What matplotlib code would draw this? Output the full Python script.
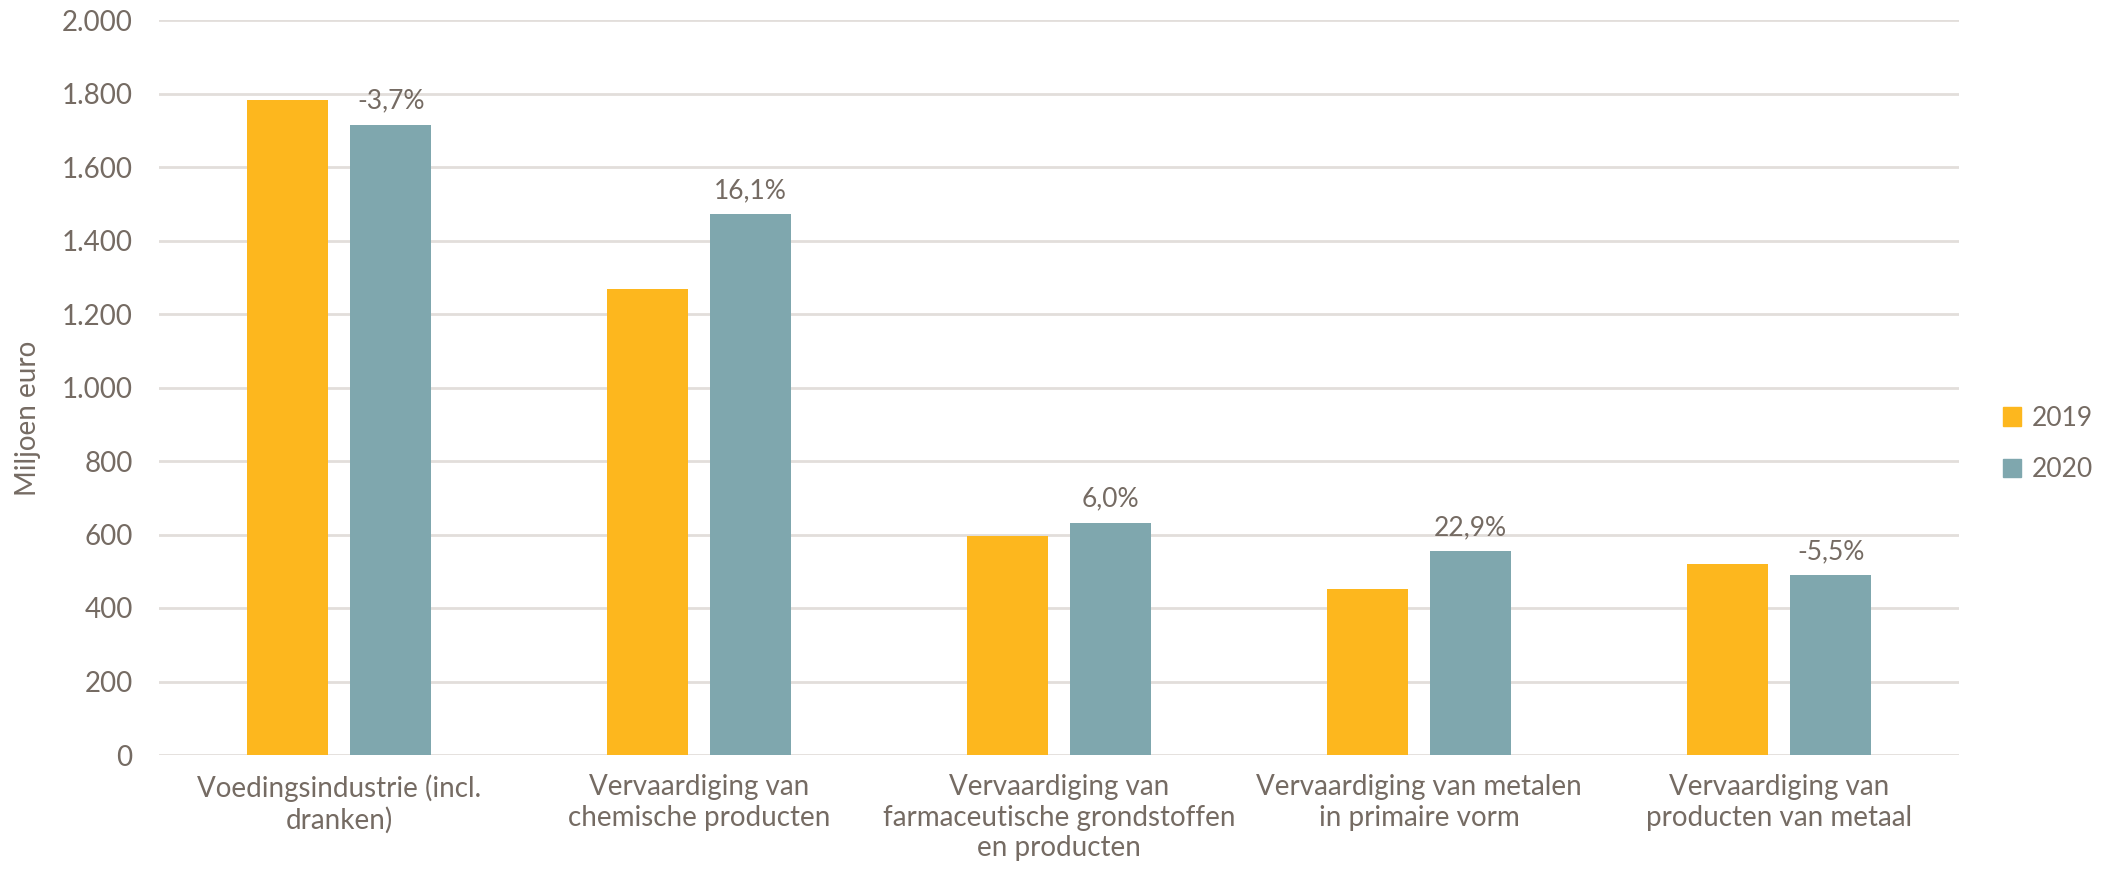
import matplotlib
matplotlib.use("Agg")
import matplotlib.pyplot as plt
import numpy as np
from matplotlib.patches import Patch

categories = [
    "Voedingsindustrie (incl.\ndranken)",
    "Vervaardiging van\nchemische producten",
    "Vervaardiging van\nfarmaceutische grondstoffen\nen producten",
    "Vervaardiging van metalen\nin primaire vorm",
    "Vervaardiging van\nproducten van metaal",
]
values_2019 = [1782, 1267, 596, 451, 519]
values_2020 = [1715, 1471, 632, 555, 490]
pct_labels = ["-3,7%", "16,1%", "6,0%", "22,9%", "-5,5%"]
series_names = ["2019", "2020"]
yticks = [0, 200, 400, 600, 800, 1000, 1200, 1400, 1600, 1800, 2000]
ytick_labels = ["0", "200", "400", "600", "800", "1.000", "1.200", "1.400", "1.600", "1.800", "2.000"]

c19 = "#FDB71E"
c20 = "#7FA7AE"
txt = "#756B63"
grid = "#E2DEDB"

plt.rcParams['font.family'] = ['Lato', 'DejaVu Sans']

fig = plt.figure(figsize=(21.09, 8.8), dpi=100)
ax = fig.add_axes([159/2109, 1-755/880, 1800/2109, 735/880])

x = np.arange(len(categories))
w = 0.225
off = 0.1435
ax.bar(x - off, values_2019, w, color=c19, zorder=3)
ax.bar(x + off, values_2020, w, color=c20, zorder=3)

for xi, v, lab in zip(x, values_2020, pct_labels):
    ax.annotate(lab, (xi + off, v), xytext=(0, 8), textcoords="offset points",
                ha="center", va="bottom", fontsize=19, color=txt,
                family=['Liberation Sans Narrow', 'Lato', 'DejaVu Sans'])

ax.set_xlim(-0.5, len(categories) - 0.5)
ax.set_ylim(0, 2000)
ax.set_yticks(yticks)
ax.set_yticklabels(ytick_labels)
ax.set_xticks(x)
ax.set_xticklabels(categories, linespacing=1.2)
ax.tick_params(axis='y', length=0, pad=19, labelsize=20, labelcolor=txt)
ax.tick_params(axis='x', length=0, pad=14, labelsize=20, labelcolor=txt)
for s in ax.spines.values():
    s.set_visible(False)
ax.yaxis.grid(True, color=grid, linewidth=2, zorder=0)
ax.set_axisbelow(True)
fig.text(28/2109, 1-418/880, "Miljoen euro", rotation=90, ha="center", va="center",
         fontsize=20, color=txt)

handles = [Patch(color=c19, label=series_names[0]), Patch(color=c20, label=series_names[1])]
fig.legend(handles=handles, loc="center left", bbox_to_anchor=(2003/2109, 1-444/880),
           frameon=False, fontsize=19, labelcolor=txt, handlelength=0.7, handleheight=0.7,
           handletextpad=0.4, labelspacing=1.0, borderaxespad=0, borderpad=0)

fig.savefig("out.png", dpi=100)
